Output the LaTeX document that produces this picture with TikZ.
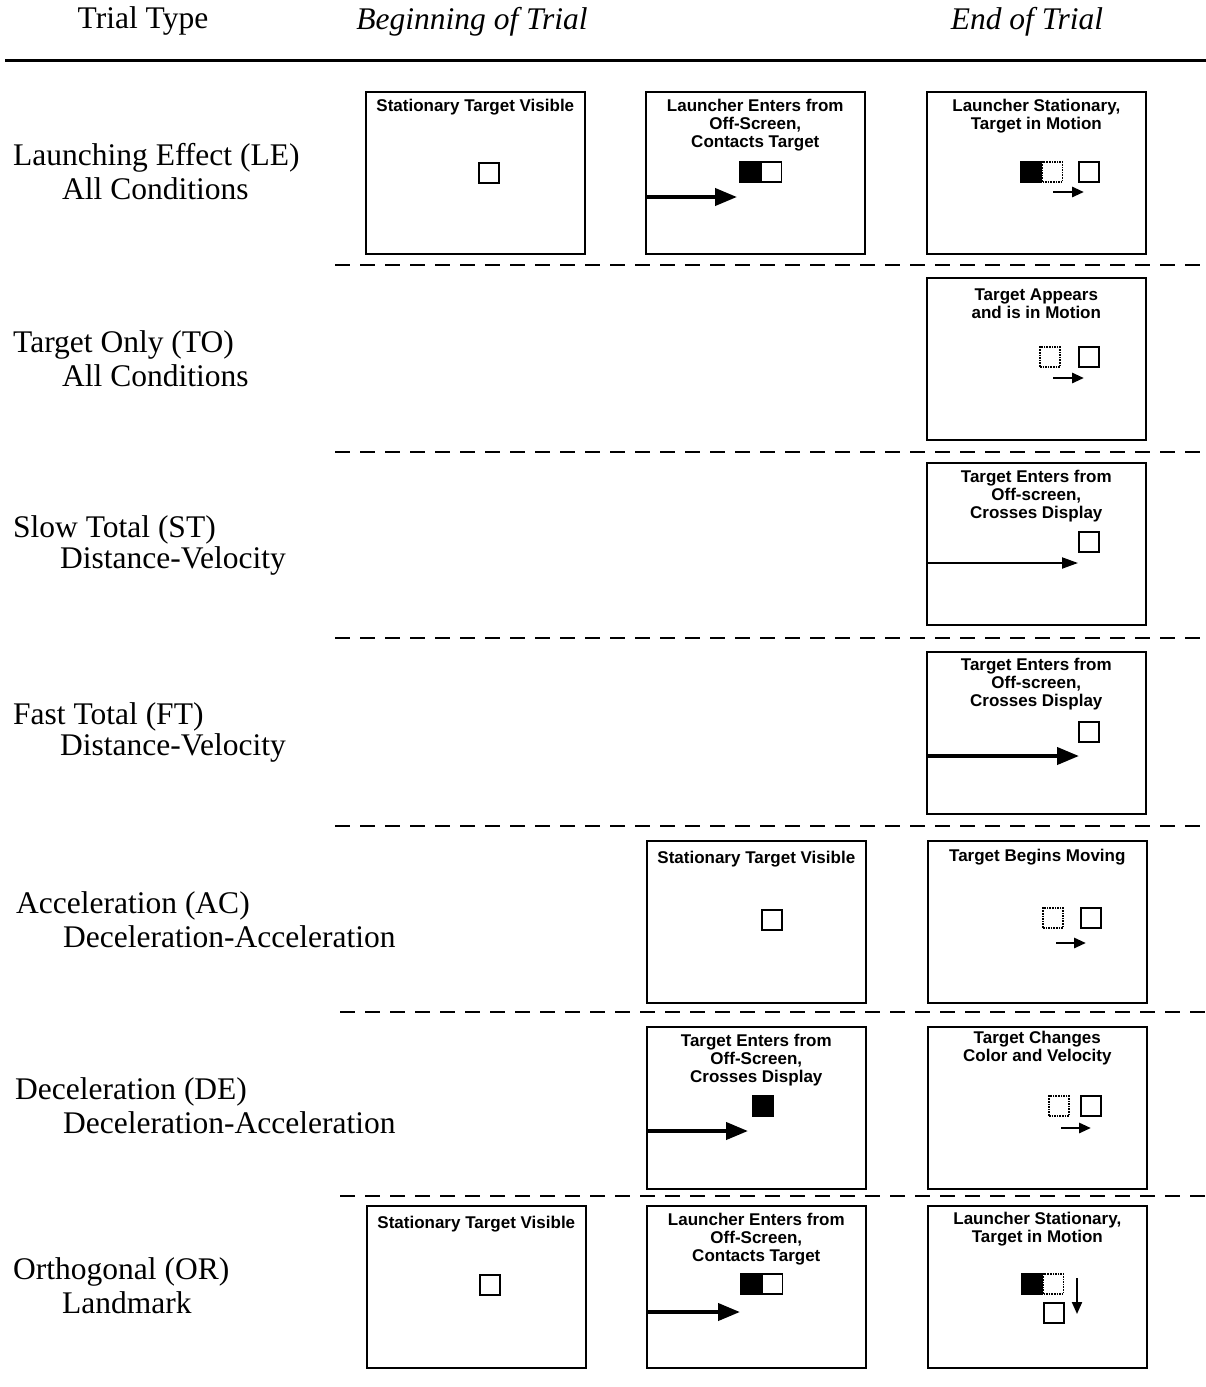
\documentclass[tikz,border=0pt]{standalone}
\usepackage{fontspec}
\setmainfont{Liberation Serif}
\newfontfamily\panelfont{Liberation Sans}
\usetikzlibrary{arrows.meta,positioning}

\begin{document}
\begin{tikzpicture}[x=1pt, y=-1pt,
    panel/.style={draw, line width=1.6pt, minimum width=219pt, minimum height=162pt, inner sep=0pt, anchor=north west},
    caption/.style={font=\panelfont\bfseries\fontsize{17}{18}\selectfont, align=center, inner sep=1pt},
    rowlabel/.style={font=\fontsize{31.5}{31}\selectfont, anchor=west, inner sep=0pt},
    headlabel/.style={font=\fontsize{31.5}{31}\selectfont, inner sep=0pt},
    tgt/.style={draw, line width=1.6pt, minimum size=20pt, inner sep=0pt},
    ghost/.style={tgt, densely dotted, line width=1.4pt},
    launcher/.style={tgt, fill=black},
    rowsep/.style={line width=1.8pt, dash pattern=on 15pt off 10pt},
    bigarrow/.style={line width=4pt, -{Triangle[length=22pt, width=17pt]}},
    thinarrow/.style={line width=2pt, -{Triangle[length=16pt, width=11pt]}},
    smallarrow/.style={line width=2.8pt, -{Triangle[length=12pt, width=10pt]}}]
  \useasboundingbox (0,0) rectangle (1206,1387);

  % header
  \node[headlabel] (hType)  at (143,21) {Trial Type};
  \node[headlabel] (hBegin) at (472,22) {\itshape Beginning of Trial};
  \node[headlabel] (hEnd)   at (1027,22) {\itshape End of Trial};
  \draw[line width=3pt] (5,60) -- (1206,60);

  % row separators
  \foreach \yy/\xs in {265/335, 452/335, 638/335, 826/335, 1012/340, 1196/340}
    \draw[rowsep] (\xs,\yy) -- (1206,\yy);

  % trial type labels
  \foreach \nm/\yy/\xa/\xb/\first/\second in {
      le/158/13/62/{Launching Effect (LE)}/{All Conditions},
      to/345/13/62/{Target Only (TO)}/{All Conditions},
      st/530/13/60/{Slow Total (ST)}/{Distance-Velocity},
      ft/717/13/60/{Fast Total (FT)}/{Distance-Velocity},
      ac/906/16/63/{Acceleration (AC)}/{Deceleration-Acceleration},
      de/1092/15/63/{Deceleration (DE)}/{Deceleration-Acceleration},
      or/1272/13/62/{Orthogonal (OR)}/{Landmark}}
    {
      \node[rowlabel] (\nm lab) at (\xa,\yy) {\first};
      \node[rowlabel] (\nm sub) at (\xb,\yy+31) {\second};
    }

  % display panels
  \foreach \nm/\px/\py in {le1/365/91, le2/645/91, le3/926/91,
      to3/926/277, st3/926/462, ft3/926/651,
      ac2/646/840, ac3/927/840, de2/646/1026, de3/927/1026,
      or1/366/1205, or2/646/1205, or3/927/1205}
    \node[panel] (\nm) at (\px,\py) {};

  % panel captions
  \node[caption, below=7pt of le1.north] (le1t) {Stationary Target Visible};
  \node[caption, below=7pt of le2.north] (le2t) {Launcher Enters from\\Off-Screen,\\Contacts Target};
  \node[caption, below=7pt of le3.north] (le3t) {Launcher Stationary,\\Target in Motion};
  \node[caption, below=11pt of to3.north] (to3t) {Target Appears\\and is in Motion};
  \node[caption, below=7pt of st3.north] (st3t) {Target Enters from\\Off-screen,\\Crosses Display};
  \node[caption, below=6pt of ft3.north] (ft3t) {Target Enters from\\Off-screen,\\Crosses Display};
  \node[caption, below=10pt of ac2.north] (ac2t) {Stationary Target Visible};
  \node[caption, below=8pt of ac3.north] (ac3t) {Target Begins Moving};
  \node[caption, below=7pt of de2.north] (de2t) {Target Enters from\\Off-Screen,\\Crosses Display};
  \node[caption, below=4pt of de3.north] (de3t) {Target Changes\\Color and Velocity};
  \node[caption, below=10pt of or1.north] (or1t) {Stationary Target Visible};
  \node[caption, below=7pt of or2.north] (or2t) {Launcher Enters from\\Off-Screen,\\Contacts Target};
  \node[caption, below=6pt of or3.north] (or3t) {Launcher Stationary,\\Target in Motion};

  % launching effect
  \node[tgt] (le1s) at (489,173) {};
  \node[launcher] (le2l) at (750,172) {};
  \node[tgt, anchor=west] (le2s) at (le2l.east) {};
  \coordinate (le2a) at (le2.west |- 0,197);
  \draw[bigarrow] (le2a) -- ++(92,0);
  \node[launcher] (le3l) at (1031,172) {};
  \node[ghost, anchor=west] (le3g) at (le3l.east) {};
  \node[tgt] (le3s) at (1089,172) {};
  \coordinate (le3a) at (1053,192);
  \draw[smallarrow] (le3a) -- ++(31,0);

  % target only
  \node[ghost] (to3g) at (1050,357) {};
  \node[tgt] (to3s) at (1089,357) {};
  \coordinate (to3a) at (1053,378);
  \draw[smallarrow] (to3a) -- ++(31,0);

  % slow total
  \node[tgt] (st3s) at (1089,542) {};
  \coordinate (st3a) at (st3.west |- 0,563);
  \draw[thinarrow] (st3a) -- ++(152,0);

  % fast total
  \node[tgt] (ft3s) at (1089,732) {};
  \coordinate (ft3a) at (ft3.west |- 0,756);
  \draw[bigarrow] (ft3a) -- ++(153,0);

  % acceleration
  \node[tgt] (ac2s) at (772,920) {};
  \node[ghost] (ac3g) at (1053,918) {};
  \node[tgt] (ac3s) at (1091,918) {};
  \coordinate (ac3a) at (1056,943);
  \draw[smallarrow] (ac3a) -- ++(30,0);

  % deceleration
  \node[launcher] (de2s) at (763,1106) {};
  \coordinate (de2a) at (de2.west |- 0,1131);
  \draw[bigarrow] (de2a) -- ++(102,0);
  \node[ghost] (de3g) at (1059,1106) {};
  \node[tgt] (de3s) at (1091,1106) {};
  \coordinate (de3a) at (1061,1128);
  \draw[smallarrow] (de3a) -- ++(30,0);

  % orthogonal
  \node[tgt] (or1s) at (490,1285) {};
  \node[launcher] (or2l) at (751,1284) {};
  \node[tgt, anchor=west] (or2s) at (or2l.east) {};
  \coordinate (or2a) at (or2.west |- 0,1312);
  \draw[bigarrow] (or2a) -- ++(94,0);
  \node[launcher] (or3l) at (1032,1284) {};
  \node[ghost, anchor=west] (or3g) at (or3l.east) {};
  \node[tgt] (or3s) at (1054,1313) {};
  \coordinate (or3a) at (1077,1278);
  \draw[smallarrow, line width=2pt] (or3a) -- ++(0,36);
\end{tikzpicture}
\end{document}
